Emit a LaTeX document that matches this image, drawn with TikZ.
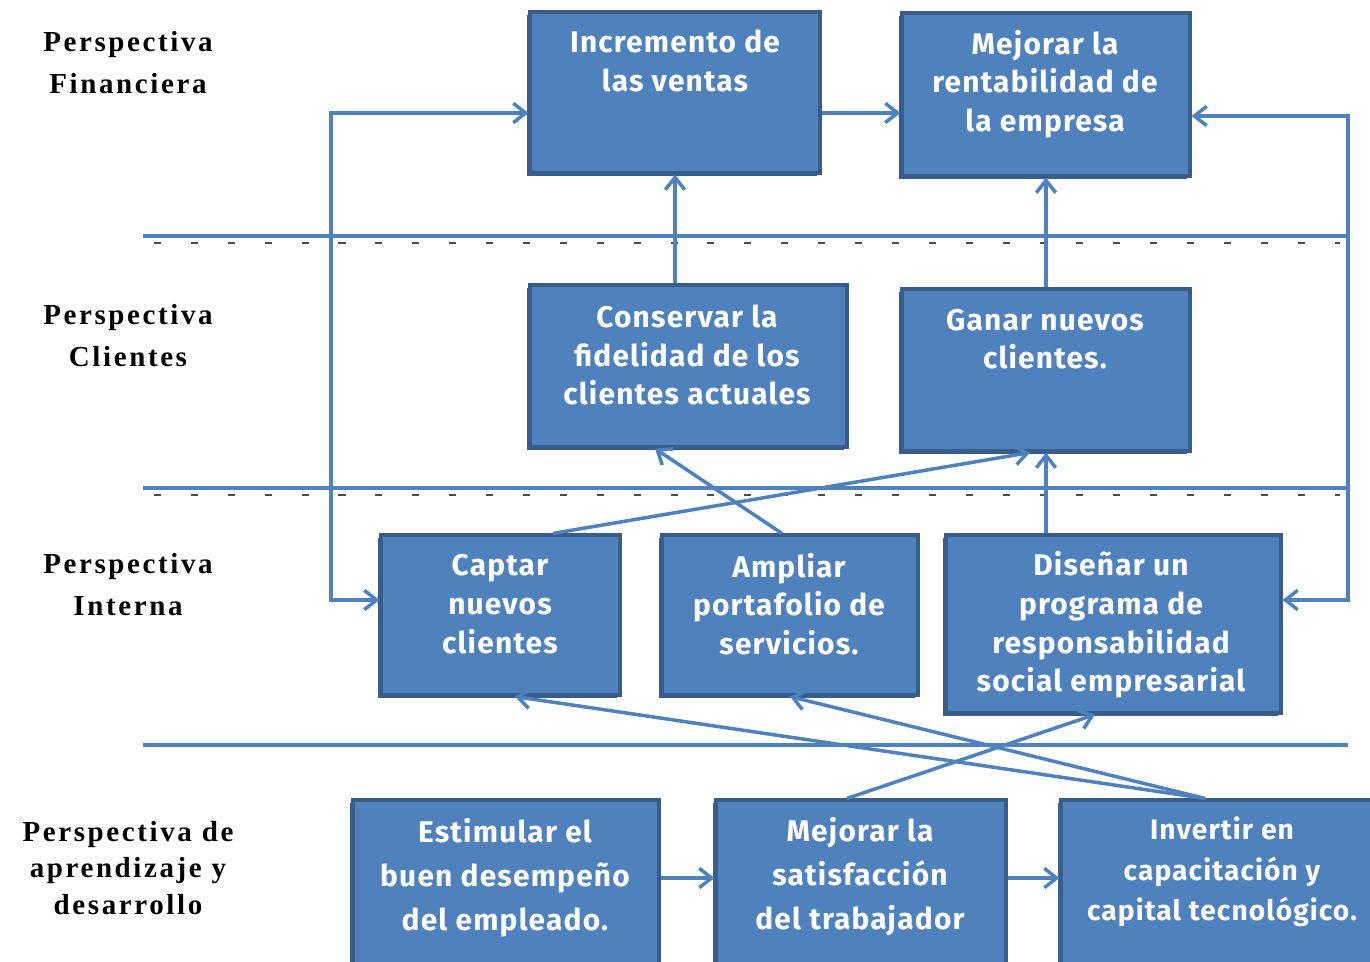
\documentclass[tikz,border=0pt]{standalone}
\usepackage{fontspec}
\setmainfont{Liberation Serif}
\newfontfamily\cajafont[LetterSpace=4]{Fira Sans}
\newfontfamily\perspfont[LetterSpace=9]{Liberation Serif}
\usetikzlibrary{arrows.meta}
\definecolor{azul}{HTML}{4F81BD}
\definecolor{azulosc}{HTML}{385D8A}

\tikzset{
  caja/.style={draw=azulosc, line width=1.8pt, fill=azul, inner sep=0pt,
    preaction={fill=azulosc, transform canvas={xshift=-1.8pt,yshift=-1.8pt}}},
  texto/.style={text=white, font=\cajafont\bfseries\fontsize{17}{22}\selectfont, align=center, inner sep=0pt},
  persp/.style={font=\perspfont\bfseries\fontsize{16.5}{24}\selectfont, align=center, inner sep=0pt},
  flecha/.style={azul, line width=2pt, -{Straight Barb[length=7pt,width=11pt]}},
  flechas/.style={azul, line width=2pt, {Straight Barb[length=7pt,width=11pt]}-{Straight Barb[length=7pt,width=11pt]}},
  linea/.style={azul, line width=2.4pt},
}

\begin{document}
\begin{tikzpicture}[x=0.02cm,y=-0.02cm]
\useasboundingbox (0,0) rectangle (1370,962);

% separadores
\foreach \y in {236,488} {
 \draw[linea] (143,\y) -- (1348,\y);
 \draw[black!70, line width=1.2pt, dash pattern=on 4pt off 17pt] (154,\y+7) -- (1340,\y+7);
}
\draw[linea] (143,745) -- (1348,745);

% perspectivas
\node[persp] (pfin) at (128,63) {Perspectiva\\Financiera};
\node[persp] (pcli) at (128,336) {Perspectiva\\Clientes};
\node[persp] (pint) at (128,585) {Perspectiva\\Interna};
\node[persp, font=\perspfont\bfseries\fontsize{16.5}{21}\selectfont] (papr) at (128,868) {Perspectiva de\\aprendizaje y\\desarrollo};

% cajas
\node[caja, minimum width=5.8cm, minimum height=3.22cm] (inc) at (675,92.5) {};
\node[caja, minimum width=5.76cm, minimum height=3.26cm] (rent) at (1046,94.5) {};
\node[caja, minimum width=6.34cm, minimum height=3.24cm] (cons) at (688.5,366) {};
\node[caja, minimum width=5.76cm, minimum height=3.24cm] (ganar) at (1046,370) {};
\node[caja, minimum width=4.78cm, minimum height=3.2cm] (captar) at (500.5,615) {};
\node[caja, minimum width=5.12cm, minimum height=3.2cm] (ampliar) at (790,615) {};
\node[caja, minimum width=6.7cm, minimum height=3.56cm] (disenar) at (1113.5,624) {};
\node[caja, minimum width=6.12cm, minimum height=3.48cm] (estim) at (506,887) {};
\node[caja, minimum width=5.8cm, minimum height=3.48cm] (satisf) at (861,887) {};
\node[caja, minimum width=6.36cm, minimum height=3.48cm] (invert) at (1220,887) {};

% textos
\node[texto] (incT) at (675,61) {Incremento de\\las ventas};
\node[texto] (rentT) at (1045,84) {Mejorar la\\rentabilidad de\\la empresa};
\node[texto] (consT) at (687,355) {Conservar la\\fidelidad de los\\clientes actuales};
\node[texto] (ganarT) at (1045,339) {Ganar nuevos\\clientes.};
\node[texto] (captarT) at (500,604) {Captar\\nuevos\\clientes};
\node[texto] (ampliarT) at (789,604) {Ampliar\\portafolio de\\servicios.};
\node[texto] (disenarT) at (1111,625) {Diseñar un\\programa de\\responsabilidad\\social empresarial};
\node[texto, font=\cajafont\bfseries\fontsize{17}{25}\selectfont] (estimT) at (505,878) {Estimular el\\buen desempeño\\del empleado.};
\node[texto, font=\cajafont\bfseries\fontsize{17}{25}\selectfont] (satisfT) at (860,877) {Mejorar la\\satisfacción\\del trabajador};
\node[texto, font=\cajafont\bfseries\fontsize{16}{23}\selectfont] (invertT) at (1222,872) {Invertir en\\capacitación y\\capital tecnológico.};

% conexiones
\draw[flecha] (inc.east |- 0,113) -- (rent.west |- 0,113);
\draw[flecha] (inc.south |- cons.north) -- (inc.south);
\draw[flecha] (rent.south |- ganar.north) -- (rent.south);
\draw[flechas] (captar.west |- 0,600) -- (331,600) -- (331,113) -- (inc.west |- 0,113);
\draw[flechas] (rent.east |- 0,116) -- (1348,116) -- (1348,600) -- (disenar.east |- 0,600);
\draw[flecha] (captar.north -| 553,0) -- (ganar.south -| 1030,0);
\draw[flecha] (ampliar.north -| 782,0) -- (cons.south -| 655,0);
\draw[flecha] (ganar.south |- disenar.north) -- (ganar.south);
\draw[flecha] (estim.east |- 0,878) -- (satisf.west |- 0,878);
\draw[flecha] (satisf.east |- 0,878) -- (invert.west |- 0,878);
\draw[flecha] (satisf.north -| 847,0) -- (disenar.south -| 1095,0);
\draw[flecha] (invert.north -| 1205,0) -- (captar.south -| 515,0);
\draw[flecha] (invert.north -| 1205,0) -- (ampliar.south -| 790,0);
\end{tikzpicture}
\end{document}
